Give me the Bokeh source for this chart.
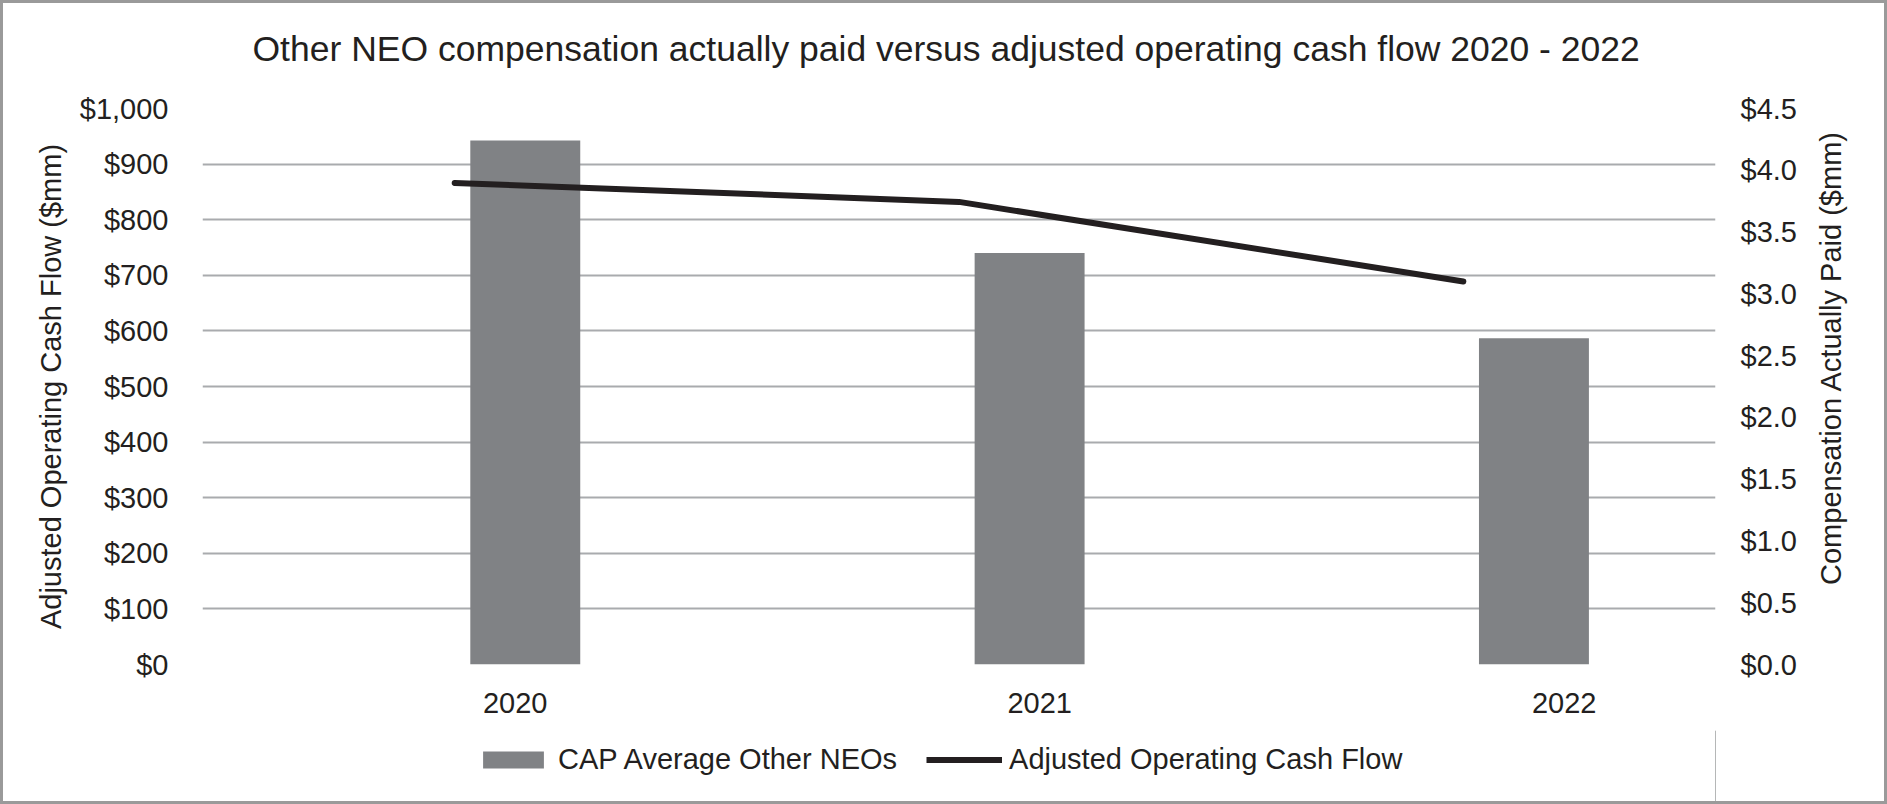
import math
from bokeh.plotting import figure
from bokeh.layouts import column, row
from bokeh.models import (Range1d, LinearAxis, FixedTicker, NumeralTickFormatter,
                          Legend, LegendItem, ColumnDataSource, Title)
from bokeh.core.properties import value
from bokeh.transform import dodge
from bokeh.embed import file_html
from bokeh.resources import INLINE

# ---- data ----
years = ["2020", "2021", "2022"]
cap_avg_other_neos = [4.24, 3.33, 2.64]        # Compensation Actually Paid ($mm) - right axis
adj_operating_cash_flow = [866, 832, 689]      # Adjusted Operating Cash Flow ($mm) - left axis
left_ticks = [0, 100, 200, 300, 400, 500, 600, 700, 800, 900, 1000]
right_ticks = [0.0, 0.5, 1.0, 1.5, 2.0, 2.5, 3.0, 3.5, 4.0, 4.5]
year_label_pos = [0.62, 1.66, 2.70]            # where the year labels sit on the category axis
title_text = "Other NEO compensation actually paid versus adjusted operating cash flow 2020 - 2022"
left_label = "Adjusted Operating Cash Flow ($mm)"
right_label = "Compensation Actually Paid ($mm)"
series_names = ["CAP Average Other NEOs", "Adjusted Operating Cash Flow"]

FONT = "Liberation Sans"
TEXT = "#231f20"
BAR = "#808285"
GRID = "#a9abae"

# ---- layout sizes (px) ----
TITLE_H = 80
MAIN_W, MAIN_H = 1802, 647
SIDE_W = 79
LEG_H = 71
FULL_W = MAIN_W + SIDE_W
FRAME_L, FRAME_R = 199, 1712

idx = list(range(len(years)))
src = ColumnDataSource(dict(idx=idx, year=years, cap=cap_avg_other_neos,
                            ocf=adj_operating_cash_flow))

# ---- title strip ----
tf = figure(width=FULL_W, height=TITLE_H, x_range=Range1d(0, 1), y_range=Range1d(0, 1),
            output_backend="svg", toolbar_location=None, title=None,
            x_axis_location=None, y_axis_location=None,
            min_border_top=TITLE_H - 1, min_border_bottom=0,
            min_border_left=FRAME_L, min_border_right=FULL_W - FRAME_R)
tf.grid.visible = False
tf.outline_line_color = None
tf.add_layout(Title(text=title_text, text_font=FONT, text_font_size="35.5px",
                    text_font_style="normal", text_color=TEXT, align="left",
                    offset=50, vertical_align="bottom", standoff=27), "above")

# ---- main chart ----
p = figure(width=MAIN_W, height=MAIN_H,
           x_range=Range1d(0, len(years)), y_range=Range1d(0, 1000),
           output_backend="svg", toolbar_location=None, title=None,
           min_border_left=FRAME_L, min_border_right=MAIN_W - FRAME_R,
           min_border_top=105 - TITLE_H, min_border_bottom=66)
p.outline_line_color = None
p.background_fill_color = "white"
p.border_fill_color = "white"
p.extra_y_ranges = {"cap": Range1d(0, 4.5)}

# grid
p.xgrid.visible = False
p.ygrid.ticker = FixedTicker(ticks=left_ticks)
p.ygrid.grid_line_color = GRID
p.ygrid.grid_line_width = 2

def style_axis(ax, standoff):
    ax.axis_line_color = None
    ax.major_tick_line_color = None
    ax.minor_tick_line_color = None
    ax.major_label_text_font = FONT
    ax.major_label_text_font_size = "29px"
    ax.major_label_text_color = TEXT
    ax.major_label_standoff = standoff
    ax.axis_label_text_font = FONT
    ax.axis_label_text_font_size = "29px"
    ax.axis_label_text_font_style = "normal"
    ax.axis_label_text_color = TEXT

# x axis (years)
xax = p.xaxis[0]
style_axis(xax, 22)
xax.ticker = FixedTicker(ticks=year_label_pos)
xax.major_label_overrides = {pos: y for pos, y in zip(year_label_pos, years)}

# left axis
lax = p.yaxis[0]
style_axis(lax, 28)
lax.ticker = FixedTicker(ticks=left_ticks)
lax.formatter = NumeralTickFormatter(format="$0,0")
lax.axis_label = left_label
lax.axis_label_standoff = 10

# right axis (ticks)
rax = LinearAxis(y_range_name="cap")
style_axis(rax, 19)
rax.ticker = FixedTicker(ticks=right_ticks)
rax.formatter = NumeralTickFormatter(format="$0.0")
p.add_layout(rax, "right")

# glyphs
bars = p.vbar(x=dodge("idx", 0.64), top="cap", width=0.218, source=src, y_range_name="cap",
              fill_color=BAR, line_color=None)
line = p.line(x=dodge("idx", 0.5), y="ocf", source=src,
              line_color=TEXT, line_width=6, line_cap="round", line_join="round")

# ---- right axis title panel (reads bottom-to-top) ----
rf = figure(width=SIDE_W, height=MAIN_H, x_range=Range1d(0, SIDE_W), y_range=Range1d(0, MAIN_H),
            output_backend="svg", toolbar_location=None, title=None,
            x_axis_location=None, y_axis_location=None, min_border=0,
            min_border_top=0, min_border_bottom=0, min_border_left=0, min_border_right=0)
rf.grid.visible = False
rf.outline_line_color = None
rf.text(x=[25], y=[357], text=[right_label], angle=math.pi / 2,
        text_align="center", text_baseline="middle", text_font=value(FONT),
        text_font_size="29px", text_color=TEXT)

# ---- legend panel (proxy renderers lie outside the visible range) ----
lf = figure(width=FULL_W, height=LEG_H, x_range=Range1d(0, 1), y_range=Range1d(0, 1),
            output_backend="svg", toolbar_location=None, title=None,
            x_axis_location=None, y_axis_location=None,
            min_border_top=0, min_border_bottom=0,
            min_border_left=FRAME_L, min_border_right=FULL_W - FRAME_R)
lf.grid.visible = False
lf.outline_line_color = None
lf.background_fill_color = "white"
lf.border_fill_color = "white"
proxy_bar = lf.vbar(x=dodge("idx", 10), top="cap", width=0.1, source=src,
                    fill_color=BAR, line_color=None)
proxy_line = lf.line(x=dodge("idx", 10), y="cap", source=src, line_color=TEXT, line_width=6)
legend = Legend(items=[LegendItem(label=series_names[0], renderers=[proxy_bar]),
                       LegendItem(label=series_names[1], renderers=[proxy_line])],
                location=(472 - FRAME_L, 25), orientation="horizontal",
                padding=0, margin=0, spacing=29, label_standoff=7,
                glyph_width=76, glyph_height=21, label_height=21,
                border_line_color=None, background_fill_alpha=0,
                label_text_font=FONT, label_text_font_size="29px", label_text_color=TEXT)
lf.add_layout(legend)

layout = column(tf, row(p, rf), lf, width=FULL_W + 6, height=TITLE_H + MAIN_H + LEG_H + 6)
layout.styles = {"border": "3px solid #9a9a9a"}

open("out.html", "w").write(file_html(layout, INLINE))
